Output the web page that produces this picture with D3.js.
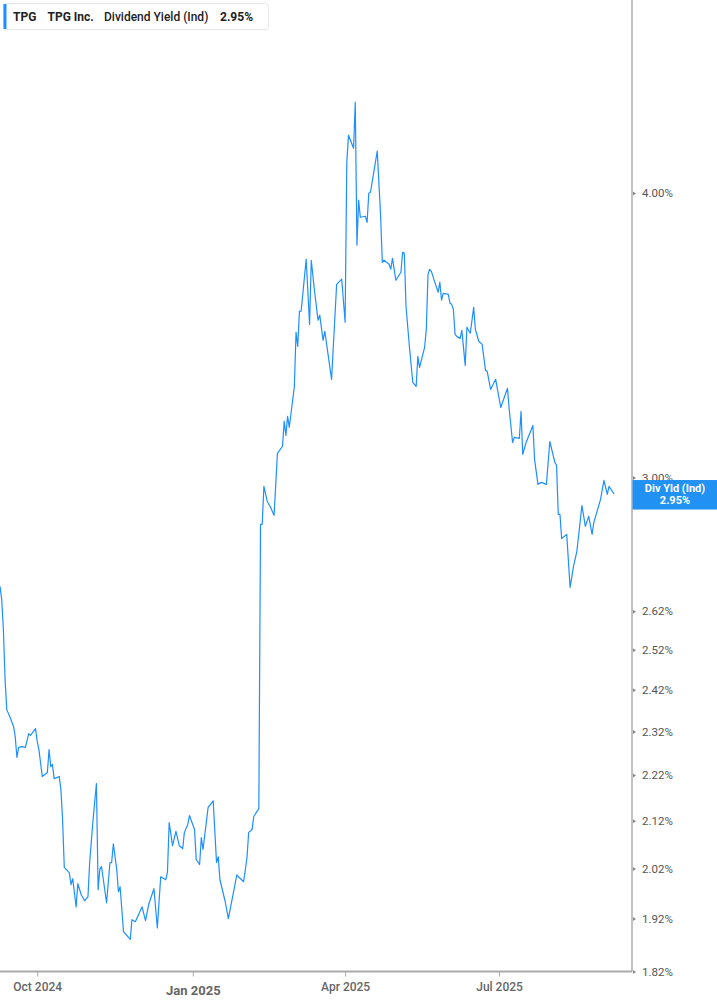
<!DOCTYPE html>
<html>
<head>
<meta charset="utf-8">
<script src="https://cdn.jsdelivr.net/npm/d3@7"></script>
<style>
  html, body { margin: 0; padding: 0; background: #fff; }
  svg { display: block; }
  text { font-family: Roboto, "Liberation Sans", sans-serif; }
</style>
</head>
<body>
<div id="chart"></div>
<script>
const ticker = "TPG";
const companyName = "TPG Inc.";
const metricName = "Dividend Yield (Ind)";
const badgeTitle = "Div Yld (Ind)";
const lastValueLabel = "2.95%";

const dates = [
"2024-09-09","2024-09-10","2024-09-11","2024-09-12","2024-09-13","2024-09-15","2024-09-17","2024-09-18","2024-09-19","2024-09-20",
"2024-09-22","2024-09-24","2024-09-26","2024-09-27","2024-09-30","2024-10-01","2024-10-02","2024-10-04","2024-10-07","2024-10-08",
"2024-10-09","2024-10-10","2024-10-11","2024-10-14","2024-10-15","2024-10-16","2024-10-17","2024-10-20","2024-10-21","2024-10-22",
"2024-10-24","2024-10-25","2024-10-27","2024-10-29","2024-10-31","2024-11-01","2024-11-03","2024-11-05","2024-11-06","2024-11-07",
"2024-11-08","2024-11-11","2024-11-13","2024-11-14","2024-11-15","2024-11-17","2024-11-18","2024-11-19","2024-11-21","2024-11-25",
"2024-11-26","2024-11-28","2024-12-02","2024-12-04","2024-12-06","2024-12-09","2024-12-11","2024-12-13","2024-12-16","2024-12-17",
"2024-12-18","2024-12-20","2024-12-22","2024-12-24","2024-12-26","2024-12-27","2024-12-29","2024-12-30","2025-01-02","2025-01-03",
"2025-01-05","2025-01-06","2025-01-07","2025-01-10","2025-01-13","2025-01-15","2025-01-16","2025-01-17","2025-01-20","2025-01-22",
"2025-01-27","2025-01-28","2025-01-31","2025-02-02","2025-02-03","2025-02-05","2025-02-06","2025-02-09","2025-02-10","2025-02-11",
"2025-02-12","2025-02-14","2025-02-16","2025-02-18","2025-02-20","2025-02-23","2025-02-24","2025-02-25","2025-02-26","2025-02-27",
"2025-03-02","2025-03-03","2025-03-04","2025-03-05","2025-03-06","2025-03-09","2025-03-11","2025-03-12","2025-03-14","2025-03-16",
"2025-03-17","2025-03-19","2025-03-20","2025-03-24","2025-03-27","2025-03-30","2025-04-01","2025-04-02","2025-04-03","2025-04-06",
"2025-04-07","2025-04-08","2025-04-09","2025-04-10","2025-04-13","2025-04-14","2025-04-15","2025-04-16","2025-04-20","2025-04-22",
"2025-04-23","2025-04-24","2025-04-27","2025-04-28","2025-04-29","2025-05-01","2025-05-04","2025-05-05","2025-05-06","2025-05-07",
"2025-05-09","2025-05-11","2025-05-13","2025-05-14","2025-05-15","2025-05-18","2025-05-19","2025-05-20","2025-05-21","2025-05-22",
"2025-05-24","2025-05-26","2025-05-27","2025-05-28","2025-05-29","2025-06-01","2025-06-02","2025-06-03","2025-06-04","2025-06-05",
"2025-06-06","2025-06-08","2025-06-09","2025-06-11","2025-06-12","2025-06-14","2025-06-16","2025-06-17","2025-06-19","2025-06-21",
"2025-06-23","2025-06-24","2025-06-26","2025-06-29","2025-07-02","2025-07-06","2025-07-07","2025-07-09","2025-07-10","2025-07-13",
"2025-07-14","2025-07-15","2025-07-17","2025-07-21","2025-07-22","2025-07-24","2025-07-26","2025-07-29","2025-07-31","2025-08-03",
"2025-08-04","2025-08-05","2025-08-06","2025-08-07","2025-08-10","2025-08-12","2025-08-14","2025-08-16","2025-08-19","2025-08-21",
"2025-08-23","2025-08-25","2025-08-26","2025-08-30","2025-09-01","2025-09-03","2025-09-04","2025-09-07"
];

const yields = [
2.687,2.652,2.572,2.445,2.372,2.353,2.332,2.308,2.260,2.283,
2.285,2.283,2.315,2.311,2.327,2.297,2.278,2.217,2.226,2.278,
2.239,2.244,2.212,2.217,2.188,2.122,2.022,2.011,1.987,1.999,
1.943,1.989,1.967,1.955,1.963,2.032,2.122,2.201,1.977,2.018,
2.024,1.951,2.032,2.032,2.071,2.018,1.973,1.983,1.895,1.880,
1.918,1.914,1.943,1.916,1.949,1.979,1.902,2.003,1.997,2.013,
2.116,2.067,2.097,2.067,2.061,2.095,2.112,2.131,2.101,2.038,
2.028,2.084,2.059,2.148,2.163,2.032,2.044,1.997,1.955,1.920,
2.007,2.003,1.993,2.042,2.095,2.101,2.129,2.146,2.861,2.861,
2.973,2.928,2.910,2.887,3.074,3.096,3.175,3.130,3.191,3.156,
3.289,3.474,3.425,3.549,3.549,3.741,3.502,3.737,3.618,3.517,
3.535,3.446,3.478,3.313,3.647,3.666,3.510,4.126,4.241,4.185,
4.385,3.794,3.971,3.903,3.907,3.883,3.999,4.003,4.173,3.907,
3.729,3.737,3.722,3.703,3.744,3.662,3.692,3.767,3.763,3.567,
3.425,3.303,3.289,3.391,3.353,3.422,3.485,3.684,3.703,3.695,
3.655,3.618,3.655,3.589,3.614,3.610,3.578,3.574,3.556,3.467,
3.460,3.453,3.481,3.360,3.492,3.471,3.563,3.485,3.443,3.432,
3.343,3.340,3.279,3.313,3.220,3.283,3.214,3.108,3.124,3.121,
3.207,3.071,3.108,3.162,3.055,2.979,2.985,2.979,3.111,3.046,
3.037,2.890,2.890,2.820,2.832,2.684,2.742,2.784,2.916,2.855,
2.884,2.832,2.866,2.934,2.991,2.949,2.973,2.950
];

const yTickValues = [4.00, 3.00, 2.62, 2.52, 2.42, 2.32, 2.22, 2.12, 2.02, 1.92, 1.82];
const xTickDates = ["2024-10-01", "2025-01-01", "2025-04-01", "2025-07-01"];
const xDomain = ["2024-09-09", "2025-09-17"];
const yDomain = [1.82, 4.00];

const W = 717, H = 1005;
const plotRight = 632, plotBottom = 971.5, yTopPx = 193;
const parse = d3.utcParse("%Y-%m-%d");
const data = dates.map((d, i) => ({ date: parse(d), value: yields[i] }));

const svg = d3.select("#chart").append("svg").attr("width", W).attr("height", H);

const x = d3.scaleUtc().domain(xDomain.map(parse)).range([0, 631]);
const y = d3.scaleLog().domain(yDomain).range([plotBottom, yTopPx]);

// line
const line = d3.line().x(d => x(d.date)).y(d => y(d.value));
svg.append("path").datum(data)
  .attr("fill", "none").attr("stroke", "#1e8fff").attr("stroke-width", 1.2)
  .attr("stroke-linejoin", "round").attr("d", line);

// x axis
const fmt = d3.utcFormat("%b %Y");
const xAxis = svg.append("g").attr("transform", `translate(0,${plotBottom})`)
  .call(d3.axisBottom(x).tickValues(xTickDates.map(parse)).tickFormat(fmt).tickSize(5).tickSizeOuter(0));
xAxis.select(".domain").attr("stroke", "#aaa").attr("stroke-width", 2).attr("d", `M0,0H${plotRight}`);
xAxis.selectAll(".tick line").attr("stroke", "#aaa");
xAxis.selectAll(".tick text")
  .attr("fill", "#666").attr("font-family", "Roboto, sans-serif")
  .attr("font-size", d => d.getUTCMonth() === 0 ? 13 : 12)
  .attr("font-weight", d => d.getUTCMonth() === 0 ? 700 : 500)
  .attr("y", d => d.getUTCMonth() === 0 ? 14 : 11);

// y axis (right)
const yAxis = svg.append("g").attr("transform", `translate(${plotRight},0)`)
  .call(d3.axisRight(y).tickValues(yTickValues).tickFormat(d => d.toFixed(2) + "%").tickSize(0).tickPadding(10));
yAxis.select(".domain").attr("stroke", "#999").attr("stroke-width", 1.2).attr("d", `M0,0V${plotBottom}`);
yAxis.selectAll(".tick text").attr("fill", "#555").attr("font-size", 11.5).attr("font-family", "Roboto, sans-serif");
yAxis.selectAll(".tick").append("path").attr("d", "M1,-2L4,0L1,2Z").attr("fill", "#888");

// badge for last value
const last = data[data.length - 1];
const by = y(last.value);
const badge = svg.append("g");
badge.append("rect").attr("x", plotRight + 0.5).attr("y", by - 14).attr("width", W - plotRight).attr("height", 29.5)
  .attr("fill", "#2191f3");
badge.append("text").attr("x", 675).attr("y", by - 2).attr("text-anchor", "middle")
  .attr("fill", "#fff").attr("font-size", 11).attr("font-weight", 700).text(badgeTitle);
badge.append("text").attr("x", 675).attr("y", by + 10).attr("text-anchor", "middle")
  .attr("fill", "#fff").attr("font-size", 11).attr("font-weight", 700).text(lastValueLabel);

// legend
const lg = svg.append("g");
lg.append("rect").attr("x", 3.5).attr("y", 3.5).attr("width", 265).attr("height", 26).attr("rx", 3)
  .attr("fill", "#fff").attr("stroke", "#e6e6e6");
lg.append("rect").attr("x", 3.5).attr("y", 4).attr("width", 3).attr("height", 25).attr("fill", "#1e8fff");
const legendItems = [
  { t: ticker, x: 13, w: 700 },
  { t: companyName, x: 47.5, w: 700 },
  { t: metricName, x: 104, w: 500 },
  { t: lastValueLabel, x: 220, w: 700 }
];
lg.selectAll("text.li").data(legendItems).join("text").attr("class", "li")
  .attr("x", d => d.x).attr("y", 21).attr("font-size", 12).attr("font-weight", d => d.w)
  .attr("fill", "#222").text(d => d.t);
</script>
</body>
</html>
